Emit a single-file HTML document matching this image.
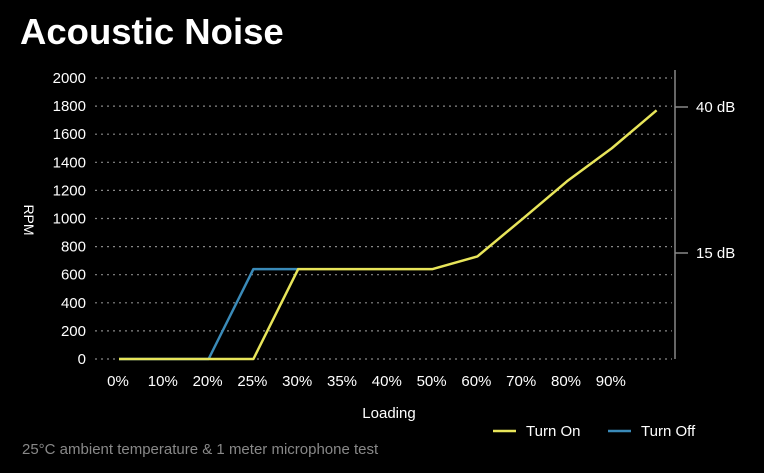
<!DOCTYPE html>
<html><head><meta charset="utf-8"><style>
body{margin:0;background:#000;width:764px;height:473px;overflow:hidden;font-family:"Liberation Sans",sans-serif;}
svg{display:block}
</style></head><body>
<svg width="764" height="473">
<text x="20" y="44" fill="#fff" font-size="36.5" font-weight="bold">Acoustic Noise</text>
<g id="grid"></g><g id="series"></g>
<line x1="675" y1="70" x2="675" y2="359" stroke="#888" stroke-width="1.5"/>
<line x1="675" y1="107" x2="688" y2="107" stroke="#888" stroke-width="1.5"/>
<line x1="675" y1="253" x2="688" y2="253" stroke="#888" stroke-width="1.5"/>
<text x="696" y="112" fill="#fff" font-size="15">40 dB</text>
<text x="696" y="258" fill="#fff" font-size="15">15 dB</text>
<text transform="translate(24,220) rotate(90)" text-anchor="middle" fill="#fff" font-size="14">RPM</text>
<text x="389" y="418" text-anchor="middle" fill="#fff" font-size="15">Loading</text>
<g>
<line x1="493" y1="431" x2="516" y2="431" stroke="#e8e55a" stroke-width="2.5"/>
<text x="526" y="436" fill="#fff" font-size="15">Turn On</text>
<line x1="608" y1="431" x2="631" y2="431" stroke="#3a8ab8" stroke-width="2.5"/>
<text x="641" y="436" fill="#fff" font-size="15">Turn Off</text>
</g>
<text x="22" y="454" fill="#888" font-size="15">25°C ambient temperature &amp; 1 meter microphone test</text>
</svg>
<script>
const categories=["0%","10%","20%","25%","30%","35%","40%","50%","60%","70%","80%","90%",""];
const turnOn=[0,0,0,0,640,640,640,640,730,995,1265,1500,1770];
const turnOff=[0,0,0,640,640];
const yTicks=[0,200,400,600,800,1000,1200,1400,1600,1800,2000];
const NS="http://www.w3.org/2000/svg";
const x=i=>119+i*44.8;
const y=v=>359-v*0.1405;
const grid=document.getElementById('grid'),ser=document.getElementById('series');
function mk(t,a,p){const e=document.createElementNS(NS,t);for(const k in a)e.setAttribute(k,a[k]);p.appendChild(e);return e;}
yTicks.forEach(v=>{
 const l=mk('line',{x1:95,x2:672,y1:y(v),y2:y(v),stroke:'#888','stroke-dasharray':'2,4','stroke-width':1.2},grid);
 
 
 const t=mk('text',{x:86,y:y(v)+5,'text-anchor':'end',fill:'#fff','font-size':15},grid);
 t.textContent=v;
 
 
});
categories.forEach((c,i)=>{if(!c)return;
 const t=mk('text',{x:x(i)-1,y:386,'text-anchor':'middle',fill:'#fff','font-size':15},grid);
 t.textContent=c;
 
 
});
function line(d,col,name){
 const p=mk('polyline',{points:d.map((v,i)=>x(i)+','+y(v)).join(' '),fill:'none',stroke:col,'stroke-width':2.5,'stroke-linejoin':'round'},ser);
 
 
}
line(turnOff,'#3a8ab8','series-turn-off');
line(turnOn,'#e8e55a','series-turn-on');
</script>
</body></html>
